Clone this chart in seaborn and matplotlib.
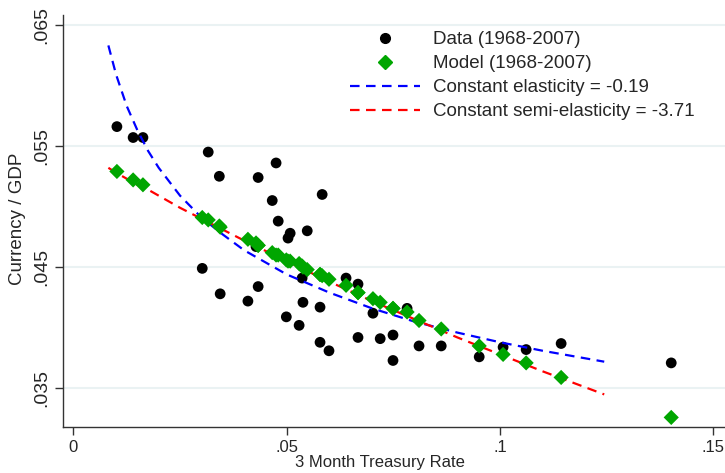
import numpy as np
import pandas as pd
import matplotlib
matplotlib.use("Agg")
import matplotlib.pyplot as plt
from matplotlib.lines import Line2D
import seaborn as sns

# taxa de juros (3 Month Treasury Rate) - mesma para dados e modelo
taxa = [0.0102, 0.0140, 0.0163, 0.0302, 0.0316, 0.0342, 0.0344, 0.0409, 0.0428, 0.0433,
        0.0433, 0.0466, 0.0475, 0.0480, 0.0499, 0.0503, 0.0508, 0.0529, 0.0536, 0.0538,
        0.0548, 0.0578, 0.0578, 0.0583, 0.0599, 0.0639, 0.0667, 0.0667, 0.0702, 0.0719,
        0.0749, 0.0749, 0.0782, 0.0810, 0.0862, 0.0951, 0.1007, 0.1061, 0.1143, 0.1401]

# Currency / GDP observado (1968-2007)
dados = [0.0566, 0.0557, 0.0557, 0.0449, 0.0545, 0.0525, 0.0428, 0.0422, 0.0467, 0.0524,
         0.0434, 0.0505, 0.0536, 0.0488, 0.0409, 0.0474, 0.0478, 0.0402, 0.0441, 0.0421,
         0.0480, 0.0417, 0.0388, 0.0510, 0.0381, 0.0441, 0.0436, 0.0392, 0.0412, 0.0391,
         0.0394, 0.0373, 0.0416, 0.0385, 0.0385, 0.0376, 0.0384, 0.0382, 0.0387, 0.0371]

# Currency / GDP do modelo
modelo = [0.0529, 0.0522, 0.0518, 0.0491, 0.0489, 0.0484, 0.0483, 0.0473, 0.0470, 0.0468,
          0.0468, 0.0462, 0.0460, 0.0460, 0.0456, 0.0455, 0.0455, 0.0453, 0.0451, 0.0450,
          0.0448, 0.0444, 0.0444, 0.0443, 0.0440, 0.0435, 0.0429, 0.0429, 0.0424, 0.0421,
          0.0416, 0.0416, 0.0413, 0.0406, 0.0399, 0.0385, 0.0378, 0.0371, 0.0359, 0.0326]

# curvas ajustadas
taxa_curva = [0.0082, 0.010, 0.0125, 0.015, 0.0175, 0.02, 0.025, 0.03, 0.035, 0.04,
              0.05, 0.06, 0.07, 0.08, 0.09, 0.10, 0.11, 0.1244]
elasticidade = [0.0633, 0.0609, 0.0583, 0.0563, 0.0546, 0.0532, 0.0509, 0.0491, 0.0477, 0.0464,
                0.0444, 0.0429, 0.0416, 0.0405, 0.0396, 0.0388, 0.0381, 0.0372]
semi_elasticidade = [0.0532, 0.0528, 0.0523, 0.0518, 0.0514, 0.0509, 0.0499, 0.0490, 0.0481, 0.0472,
                     0.0455, 0.0438, 0.0422, 0.0407, 0.0392, 0.0378, 0.0364, 0.0345]

df = pd.DataFrame({"taxa": taxa, "dados": dados, "modelo": modelo})
curvas = pd.DataFrame({"taxa": taxa_curva, "elast": elasticidade, "semi": semi_elasticidade})

sns.set_style("ticks")
plt.rcParams["font.family"] = ["Liberation Sans", "DejaVu Sans"]

AZUL = "#0000FF"
VERMELHO = "#FF0000"
VERDE = "#00A600"
TRACO = [4.3, 2.9]

fig = plt.figure(figsize=(7.25, 4.73), dpi=100)
ax = fig.add_axes([0.0865, 0.097, 0.9135, 0.871])

# linhas de grade horizontais claras (estilo Stata)
for v in [0.035, 0.045, 0.055, 0.065]:
    ax.axhline(v, color="#EAF2F3", lw=1.5, zorder=0)

sns.scatterplot(data=df, x="taxa", y="dados", color="black", s=60, marker="o",
                edgecolor="none", ax=ax, zorder=2)

n0 = len(ax.lines)
sns.lineplot(data=curvas, x="taxa", y="elast", color=AZUL, lw=1.6, ax=ax, zorder=3)
sns.lineplot(data=curvas, x="taxa", y="semi", color=VERMELHO, lw=1.6, ax=ax, zorder=3)
for ln in ax.lines[n0:]:
    ln.set_dashes(TRACO)

sns.scatterplot(data=df, x="taxa", y="modelo", color=VERDE, s=60, marker="D",
                edgecolor="none", ax=ax, zorder=4)

ax.set_xlim(-0.0025, 0.1527)
ax.set_ylim(0.0318, 0.0658)
ax.set_xticks([0, 0.05, 0.1, 0.15])
ax.set_xticklabels(["0", ".05", ".1", ".15"])
ax.set_yticks([0.035, 0.045, 0.055, 0.065])
ax.set_yticklabels([".035", ".045", ".055", ".065"], rotation=90, va="center")
ax.tick_params(axis="both", length=6, width=1, color="#333333", pad=3)
ax.tick_params(axis="x", labelsize=12)
ax.tick_params(axis="y", labelsize=14)

sns.despine(ax=ax)
for s in ["left", "bottom"]:
    ax.spines[s].set_color("#333333")
    ax.spines[s].set_linewidth(1)

ax.set_xlabel("3 Month Treasury Rate", fontsize=12)
ax.set_ylabel("Currency / GDP", fontsize=13.5)
ax.xaxis.set_label_coords(0.479, -0.068)
ax.yaxis.set_label_coords(-0.0554, 0.505)

handles = [
    Line2D([], [], marker="o", color="black", ls="none", ms=7),
    Line2D([], [], marker="D", color=VERDE, ls="none", ms=7),
    Line2D([], [], color=AZUL, lw=1.6, dashes=TRACO),
    Line2D([], [], color=VERMELHO, lw=1.6, dashes=TRACO),
]
labels = ["Data (1968-2007)", "Model (1968-2007)", "Constant elasticity = -0.19",
          "Constant semi-elasticity = -3.71"]
fig.legend(handles, labels, loc="upper left", bbox_to_anchor=(350 / 725, 1 - 31 / 473),
           frameon=False, fontsize=13.5, handlelength=3.73, handletextpad=0.7,
           labelspacing=0.37, borderpad=0, borderaxespad=0)

fig.savefig("out.png", dpi=100)
